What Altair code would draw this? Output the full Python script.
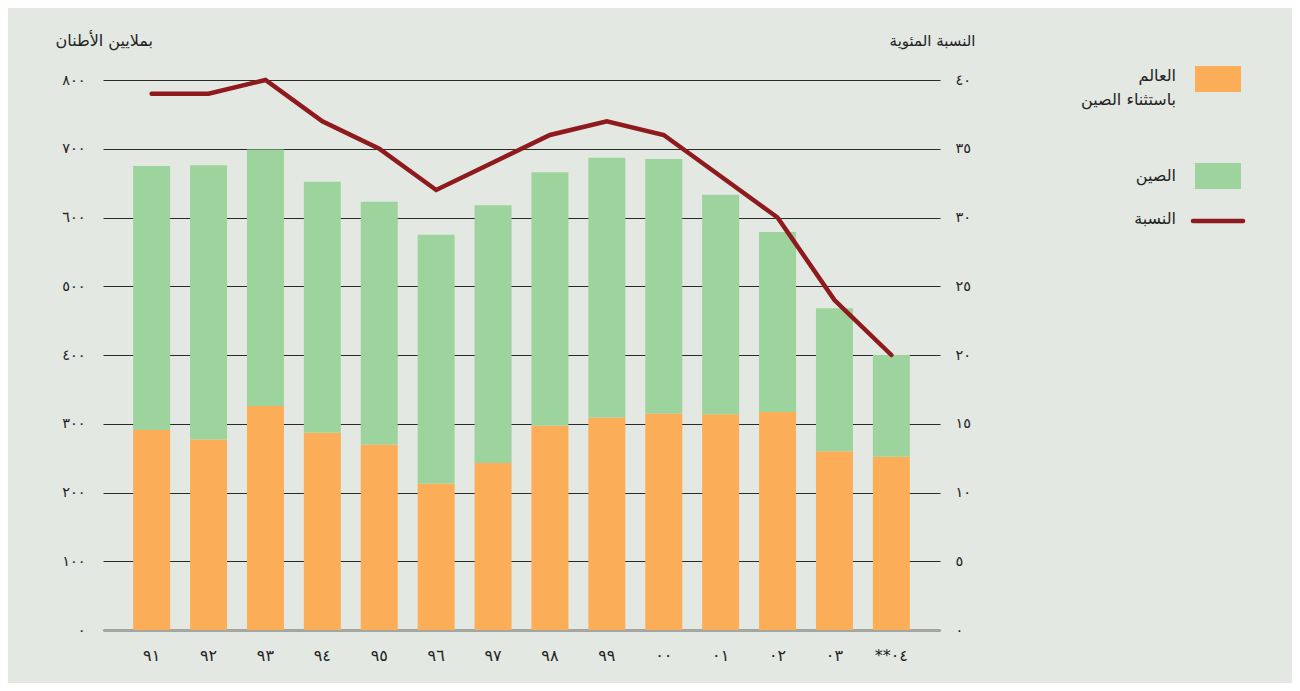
import altair as alt
import pandas as pd

# ---- data ----
years = ["٩١", "٩٢", "٩٣", "٩٤", "٩٥", "٩٦", "٩٧", "٩٨", "٩٩", "٠٠", "٠١", "٠٢", "٠٣", "**٠٤"]
world_ex_china = [291, 277, 326, 287, 270, 213, 243, 297, 309, 315, 314, 317, 260, 252]
china = [384, 399, 373, 365, 353, 362, 375, 369, 378, 370, 319, 262, 208, 148]
ratio = [39, 39, 40, 37, 35, 32, 34, 36, 37, 36, 33, 30, 24, 20]

left_ticks = [0, 100, 200, 300, 400, 500, 600, 700, 800]
left_labels = ["٠", "١٠٠", "٢٠٠", "٣٠٠", "٤٠٠", "٥٠٠", "٦٠٠", "٧٠٠", "٨٠٠"]
right_ticks = [0, 5, 10, 15, 20, 25, 30, 35, 40]
right_labels = ["٠", "٥", "١٠", "١٥", "٢٠", "٢٥", "٣٠", "٣٥", "٤٠"]

series_names = ["العالم باستثناء الصين", "الصين"]
series_colors = ["#fbad58", "#9dd39c"]
line_name = "النسبة"
line_color = "#8e1a1d"
left_title = "بملايين الأطنان"
right_title = "النسبة المئوية"
legend_world = "العالم\nباستثناء الصين"
legend_china = "الصين"

BG = "#e3e8e2"
FONT = "DejaVu Sans"
TXT = "#222222"

# ---- tables ----
rows = []
for i, y in enumerate(years):
    rows.append({"year": y, "series": series_names[0], "value": world_ex_china[i], "order": 0})
    rows.append({"year": y, "series": series_names[1], "value": china[i], "order": 1})
df_bars = pd.DataFrame(rows)
df_line = pd.DataFrame({"year": years, "ratio": ratio})


def label_expr(ticks, labels):
    arr = "[" + ",".join("'" + l + "'" for l in labels) + "]"
    vals = "[" + ",".join(str(t) for t in ticks) + "]"
    return f"{arr}[indexof({vals}, datum.value)]"


x_enc = alt.X(
    "year:N",
    sort=years,
    scale=alt.Scale(paddingInner=0.35, paddingOuter=0.53),
    axis=alt.Axis(
        title=None, labelAngle=0, ticks=False, domain=True,
        domainColor="#a4a6a2", domainWidth=3, labelPadding=17,
        labelFontSize=16, labelColor=TXT, labelFont=FONT,
    ),
)

bars = alt.Chart(df_bars).mark_bar().encode(
    x=x_enc,
    y=alt.Y(
        "value:Q",
        stack="zero",
        scale=alt.Scale(domain=[0, 800], nice=False),
        axis=alt.Axis(
            values=left_ticks, labelExpr=label_expr(left_ticks, left_labels),
            grid=True, gridColor="#2a2a2a", gridWidth=1.1,
            domain=False, ticks=False, labelPadding=18,
            labelFontSize=14.5, labelColor=TXT, labelFont=FONT,
            title=left_title, titleAngle=0, titleX=-48, titleY=-40,
            titleAlign="left", titleBaseline="middle",
            titleFontSize=16, titleFontWeight="normal", titleColor=TXT, titleFont=FONT,
        ),
    ),
    color=alt.Color("series:N", scale=alt.Scale(domain=series_names, range=series_colors), legend=None),
    order=alt.Order("order:Q"),
)

line = alt.Chart(df_line).mark_line(color=line_color, strokeWidth=4.5, strokeCap="round").encode(
    x=alt.X("year:N", sort=years),
    y=alt.Y(
        "ratio:Q",
        scale=alt.Scale(domain=[0, 40], nice=False),
        axis=alt.Axis(
            orient="right", values=right_ticks, labelExpr=label_expr(right_ticks, right_labels),
            grid=False, domain=False, ticks=False, labelPadding=15,
            labelFontSize=14.5, labelColor=TXT, labelFont=FONT,
            title=right_title, titleAngle=0, titleX=35, titleY=-40,
            titleAlign="right", titleBaseline="middle",
            titleFontSize=15, titleFontWeight="normal", titleColor=TXT, titleFont=FONT,
        ),
    ),
)

# ---- custom legend (right side, symbols to the right of labels) ----
leg_df = pd.DataFrame({"t": [legend_world]})
leg_world_rect = alt.Chart(leg_df).mark_rect(color=series_colors[0]).encode(
    x=alt.value(1092), x2=alt.value(1138), y=alt.value(-14), y2=alt.value(12)
)
leg_world_text = alt.Chart(leg_df).mark_text(
    align="right", baseline="top", fontSize=16, lineHeight=24, lineBreak="\n",
    color=TXT, font=FONT,
).encode(x=alt.value(1073), y=alt.value(-12), text="t:N")

leg_c_df = pd.DataFrame({"t": [legend_china]})
leg_china_rect = alt.Chart(leg_c_df).mark_rect(color=series_colors[1]).encode(
    x=alt.value(1092), x2=alt.value(1138), y=alt.value(83), y2=alt.value(109)
)
leg_china_text = alt.Chart(leg_c_df).mark_text(
    align="right", baseline="middle", fontSize=16, color=TXT, font=FONT,
).encode(x=alt.value(1073), y=alt.value(96), text="t:N")

leg_l_df = pd.DataFrame({"t": [line_name]})
leg_line_rule = alt.Chart(leg_l_df).mark_rule(color=line_color, strokeWidth=4.5, strokeCap="round").encode(
    x=alt.value(1090), x2=alt.value(1140), y=alt.value(141)
)
leg_line_text = alt.Chart(leg_l_df).mark_text(
    align="right", baseline="middle", fontSize=16, color=TXT, font=FONT,
).encode(x=alt.value(1073), y=alt.value(139), text="t:N")

chart = alt.layer(
    bars, line,
    leg_world_rect, leg_world_text, leg_china_rect, leg_china_text, leg_line_rule, leg_line_text,
).resolve_scale(y="independent").properties(
    width=837,
    height=550,
    padding={"left": 95, "top": 72, "right": 352, "bottom": 53},
    autosize=alt.AutoSizeParams(type="none"),
    background=BG,
).configure(font=FONT).configure_view(strokeWidth=0, stroke="transparent")

chart.save("out.html", embed_options={"renderer": "svg", "actions": False})
